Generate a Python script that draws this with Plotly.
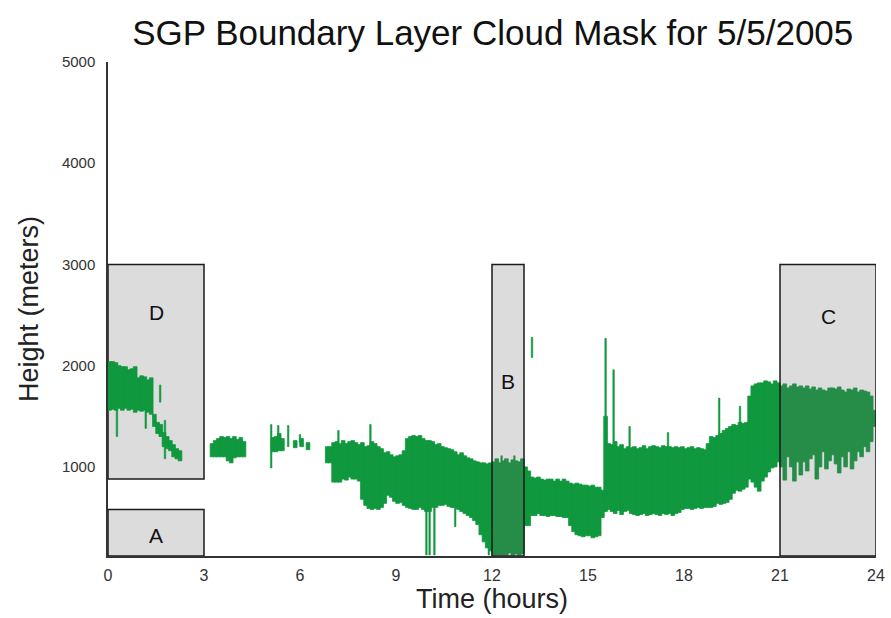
import plotly.graph_objects as go

# ---- data: cloud layer per time bin (hour centre, base m, top m) ----
body_t = [0.05,0.15,0.25,0.35,0.45,0.55,0.65,0.75,0.85,0.95,1.05,1.15,1.25,1.35,1.45,1.55,1.65,1.75,1.85,1.95,2.05,2.15,2.25,
          3.25,3.35,3.45,3.55,3.65,3.75,3.85,3.95,4.05,4.15,4.25,
          5.15,5.25,5.35,5.45,5.85,6.05,6.25,
          6.85,6.95,7.05,7.15,7.25,7.35,7.45,7.55,7.65,7.75,7.85,7.95,8.05,8.15,8.25,8.35,8.45,8.55,8.65,8.75,8.85,8.95,
          9.05,9.15,9.25,9.35,9.45,9.55,9.65,9.75,9.85,9.95,10.05,10.15,10.25,10.35,10.45,10.55,10.65,10.75,10.85,10.95,
          11.05,11.15,11.25,11.35,11.45,11.55,11.65,11.75,11.85,11.95,
          12.05,12.15,12.25,12.35,12.45,12.55,12.65,12.75,12.85,12.95,
          13.05,13.15,13.25,13.35,13.45,13.55,13.65,13.75,13.85,13.95,14.05,14.15,14.25,14.35,14.45,14.55,14.65,14.75,14.85,14.95,
          15.05,15.15,15.25,15.35,15.45,15.55,15.65,15.75,15.85,15.95,16.05,16.15,16.25,16.35,16.45,16.55,16.65,16.75,16.85,16.95,
          17.05,17.15,17.25,17.35,17.45,17.55,17.65,17.75,17.85,17.95,18.05,18.15,18.25,18.35,18.45,18.55,18.65,18.75,18.85,18.95,
          19.05,19.15,19.25,19.35,19.45,19.55,19.65,19.75,19.85,19.95,20.05,20.15,20.25,20.35,20.45,20.55,20.65,20.75,20.85,20.95,
          21.05,21.15,21.25,21.35,21.45,21.55,21.65,21.75,21.85,21.95,22.05,22.15,22.25,22.35,22.45,22.55,22.65,22.75,22.85,22.95,
          23.05,23.15,23.25,23.35,23.45,23.55,23.65,23.75,23.85,23.95]
body_base = [1560,1570,1560,1580,1560,1580,1560,1570,1540,1560,1550,1560,1540,1520,1400,1330,1300,1200,1180,1160,1100,1080,1060,
             1100,1100,1100,1100,1100,1060,1040,1090,1100,1100,1100,
             1150,1150,1160,1160,1190,1200,1170,
             1040,1040,850,850,850,880,870,900,880,880,860,680,620,590,580,590,580,600,640,720,700,660,
             640,650,620,600,590,580,580,600,580,560,560,600,600,620,620,630,610,600,600,580,
             560,540,520,500,470,430,330,260,200,170,
             130,130,130,130,130,150,130,140,130,140,
             420,420,520,520,540,520,520,510,520,520,510,510,500,500,420,360,330,320,310,320,
             320,300,310,320,500,560,580,560,540,570,530,560,570,540,530,520,530,540,520,530,
             540,530,520,540,530,540,520,540,550,580,590,590,580,590,600,590,600,600,600,610,
             640,630,640,650,680,740,770,760,780,800,880,850,800,760,860,900,950,990,1000,1050,
             1000,870,1100,1000,860,1050,920,1050,960,1080,1120,880,1000,1150,980,1060,1120,1030,940,1100,
             1000,1150,980,1060,1150,1100,1200,1150,1250,1400]
body_top = [2040,2040,2030,2000,1990,1990,1960,1970,1990,1880,1900,1890,1860,1880,1520,1440,1420,1340,1300,1260,1220,1180,1160,
            1230,1260,1280,1300,1290,1300,1280,1300,1270,1290,1250,
            1290,1300,1330,1280,1260,1280,1240,
            1200,1200,1240,1250,1230,1260,1230,1250,1260,1240,1220,1240,1200,1210,1250,1230,1200,1180,1140,1150,1120,1100,
            1110,1120,1160,1280,1300,1310,1300,1310,1280,1260,1260,1250,1220,1230,1200,1190,1180,1170,1150,1120,
            1140,1110,1090,1080,1060,1050,1040,1040,1030,1040,
            1050,1080,1040,1060,1080,1040,1070,1060,1050,1080,
            1000,960,900,890,900,880,870,880,880,860,880,860,880,860,840,830,840,830,820,820,
            810,820,800,800,770,1500,1230,1220,1250,1200,1220,1180,1200,1190,1200,1180,1190,1210,1180,1200,
            1210,1200,1190,1210,1200,1200,1190,1200,1190,1200,1180,1190,1200,1180,1190,1180,1170,1230,1300,1290,
            1310,1330,1360,1380,1400,1420,1410,1440,1430,1440,1700,1800,1820,1830,1830,1850,1840,1820,1850,1830,
            1800,1820,1780,1800,1820,1790,1800,1780,1800,1770,1790,1760,1780,1760,1750,1780,1780,1770,1790,1760,
            1740,1770,1760,1780,1740,1760,1750,1740,1700,1560]

# thin spikes (hour, base m, top m)
spike_t = [0.28,1.18,1.63,1.78,5.10,5.32,5.63,6.00,7.20,8.20,9.95,10.05,10.20,10.85,11.90,12.30,12.70,13.25,15.55,15.80,16.30,17.50,19.10,19.75]
spike_base = [1300,1380,1640,1080,990,1280,1200,1240,1240,1200,130,130,130,410,130,1040,1050,2080,1500,1200,1200,1200,1300,1400]
spike_top = [1600,1560,1810,1460,1420,1410,1410,1320,1360,1420,600,600,600,620,400,1110,1110,2280,2270,1960,1400,1340,1680,1600]

# regions (label, t0, t1, h0, h1, label height)
box_labels = ["D", "A", "B", "C"]
box_t0 = [0, 0, 12, 21]
box_t1 = [3, 3, 13, 24]
box_h0 = [880, 120, 120, 120]
box_h1 = [3000, 580, 3000, 3000]
box_label_h = [2530, 320, 1840, 2490]
box_on_top = [False, False, True, True]

x_ticks = [0, 3, 6, 9, 12, 15, 18, 21, 24]
y_ticks = [1000, 2000, 3000, 4000, 5000]

GREEN = "rgb(16,152,62)"
FONT = "Liberation Sans, Arial, sans-serif"

fig = go.Figure()
fig.add_trace(go.Bar(
    x=body_t, y=[t - b for t, b in zip(body_top, body_base)], base=body_base,
    width=0.115, marker=dict(color=GREEN, line=dict(width=0.8, color=GREEN)), showlegend=False))
fig.add_trace(go.Bar(
    x=spike_t, y=[t - b for t, b in zip(spike_top, spike_base)], base=spike_base,
    width=0.05, marker=dict(color=GREEN, line=dict(width=0.5, color=GREEN)), showlegend=False))

for lab, t0, t1, h0, h1, lh, top in zip(box_labels, box_t0, box_t1, box_h0, box_h1, box_label_h, box_on_top):
    fig.add_shape(type="rect", x0=t0, x1=t1, y0=h0, y1=h1, xref="x", yref="y",
                  layer="above" if top else "below",
                  fillcolor="rgba(108,108,108,0.24)" if top else "rgb(220,220,220)",
                  line=dict(color="#1a1a1a", width=1.5))
    fig.add_annotation(x=(t0 + t1) / 2, y=lh, text=lab, showarrow=False,
                       font=dict(family=FONT, size=21, color="#111"))

fig.update_layout(
    width=891, height=618,
    margin=dict(l=108, r=15, t=62, b=62),
    paper_bgcolor="white", plot_bgcolor="white",
    barmode="overlay",
    title=dict(text="SGP Boundary Layer Cloud Mask for 5/5/2005", x=0.553, xanchor="center",
               y=0.947, yanchor="middle", font=dict(family=FONT, size=35, color="#111")),
    xaxis=dict(range=[0, 24], tickvals=x_ticks, ticktext=[str(v) for v in x_ticks], automargin=False,
               showgrid=False, zeroline=False, showline=True, linecolor="#333", linewidth=1.5,
               ticks="outside", ticklen=4, tickcolor="rgba(0,0,0,0)",
               tickfont=dict(family=FONT, size=16, color="#333"),
               title=dict(text="Time (hours)", font=dict(family=FONT, size=27, color="#222"), standoff=2)),
    yaxis=dict(range=[120, 5000], tickvals=y_ticks, ticktext=[str(v) for v in y_ticks], automargin=False,
               showgrid=False, zeroline=False, showline=True, linecolor="#333", linewidth=1.5,
               ticks="outside", ticklen=8, tickcolor="rgba(0,0,0,0)",
               tickfont=dict(family=FONT, size=15, color="#333"),
               title=dict(text="Height (meters)", font=dict(family=FONT, size=27, color="#222"), standoff=15)),
)

fig.write_html("out.html")
